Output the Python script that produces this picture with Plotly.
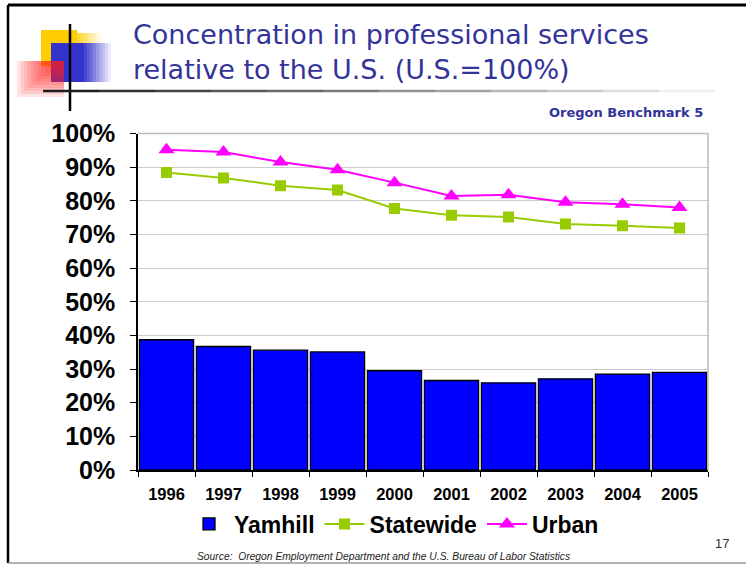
import plotly.graph_objects as go

W, H = 746, 564

# dados
anos = ["1996", "1997", "1998", "1999", "2000", "2001", "2002", "2003", "2004", "2005"]
yamhill = [0.387, 0.367, 0.356, 0.351, 0.295, 0.266, 0.259, 0.271, 0.285, 0.290]
statewide = [0.884, 0.868, 0.845, 0.832, 0.777, 0.757, 0.752, 0.731, 0.726, 0.719]
urban = [0.952, 0.945, 0.915, 0.892, 0.854, 0.814, 0.818, 0.796, 0.790, 0.780]
y_ticks = [0, 0.1, 0.2, 0.3, 0.4, 0.5, 0.6, 0.7, 0.8, 0.9, 1.0]

titulo = "Concentration in professional services<br>relative to the U.S. (U.S.=100%)"
fonte_dados = "Source:  Oregon Employment Department and the U.S. Bureau of Labor Statistics"


def px(x):
    return x / W


def py(y):
    return 1 - y / H


def rect(x0, y0, x1, y1, cor, opacidade=1.0):
    return dict(type="rect", xref="paper", yref="paper",
                x0=px(x0), x1=px(x1), y0=py(y1), y1=py(y0),
                fillcolor=cor, opacity=opacidade, line=dict(width=0), layer="above")


def linha(x0, y0, x1, y1, cor, largura):
    return dict(type="line", xref="paper", yref="paper",
                x0=px(x0), x1=px(x1), y0=py(y0), y1=py(y1),
                line=dict(color=cor, width=largura), layer="above")


fig = go.Figure()

fig.add_trace(go.Bar(
    x=anos, y=yamhill, name="Yamhill",
    marker=dict(color="#0000FF", line=dict(color="black", width=1.3)),
))
fig.add_trace(go.Scatter(
    x=anos, y=statewide, name="Statewide", mode="lines+markers",
    line=dict(color="#99CC00", width=2),
    marker=dict(symbol="square", size=11, color="#99CC00"),
))
fig.add_trace(go.Scatter(
    x=anos, y=urban, name="Urban", mode="lines+markers",
    line=dict(color="#FF00FF", width=2),
    marker=dict(symbol="triangle-up", size=14, color="#FF00FF"),
))

# decoração do slide (moldura, quadrados e linha do título)
shapes = []
shapes.append(linha(8, 5, 746, 5, "black", 3))
shapes.append(linha(8, 5, 8, 563, "black", 2.5))
shapes.append(linha(8, 563, 746, 563, "#999999", 1.5))

# quadrado amarelo com degradê para a direita
shapes.append(rect(41, 30, 77, 66, "#FFCC00"))
for i in range(8):
    shapes.append(rect(77 + i * 3, 33, 80 + i * 3, 43, "#FFCC00", 0.8 - i * 0.1))
# quadrado azul com degradê
shapes.append(rect(51, 43, 84, 82, "#3333CC"))
for i in range(9):
    shapes.append(rect(84 + i * 3, 43, 87 + i * 3, 82, "#3333CC", 0.9 - i * 0.1))
# quadrado vermelho com degradê diagonal (mais forte no canto superior direito)
for i in range(12):
    shapes.append(rect(17 + i * 3.5, 61, 64, 97 - i * 3, "#FF2020", 0.12))
# cruz preta
shapes.append(linha(70, 24, 70, 111, "black", 2.5))
for i in range(12):
    cinza = int(30 + i * 19)
    shapes.append(linha(43 + i * 56, 91, 43 + (i + 1) * 56, 91,
                        f"rgb({cinza},{cinza},{cinza})", 2.5))

# borda da área do gráfico
x_esq, x_dir, y_topo, y_base = 138, 708, 133.5, 470
shapes.append(linha(x_esq, y_topo, x_dir, y_topo, "#BBBBBB", 1.5))
shapes.append(linha(x_dir, y_topo, x_dir, y_base, "#BBBBBB", 1.5))

annotations = [
    dict(text=titulo, xref="paper", yref="paper", x=px(131), y=py(17),
         xanchor="left", yanchor="top", align="left", showarrow=False,
         font=dict(family="DejaVu Sans", size=27, color="#333399")),
    dict(text="<b>Oregon Benchmark 5</b>", xref="paper", yref="paper",
         x=px(705), y=py(112), xanchor="right", yanchor="middle", showarrow=False,
         font=dict(family="DejaVu Sans", size=13, color="#333399")),
    dict(text="17", xref="paper", yref="paper", x=px(731), y=py(543),
         xanchor="right", yanchor="middle", showarrow=False,
         font=dict(family="Liberation Sans, Arial", size=13, color="#333333")),
    dict(text=f"<i>{fonte_dados}</i>", xref="paper", yref="paper",
         x=px(383), y=py(556), xanchor="center", yanchor="middle", showarrow=False,
         font=dict(family="Liberation Sans, Arial", size=10.3, color="#222222")),
]

fig.update_layout(
    width=W, height=H,
    margin=dict(l=0, r=0, t=0, b=0, autoexpand=False),
    paper_bgcolor="white", plot_bgcolor="white",
    bargap=0.05,
    showlegend=True,
    legend=dict(orientation="h", x=px(394), y=py(524), xanchor="center", yanchor="middle",
                font=dict(family="Liberation Sans, Arial", size=23, color="black", weight="bold"),
                itemwidth=40, traceorder="normal"),
    xaxis=dict(
        domain=[px(x_esq), px(x_dir)], range=[-0.5, 9.5],
        tickson="boundaries", ticks="outside", ticklen=5, tickcolor="black",
        showline=True, linecolor="black", linewidth=1.5,
        tickfont=dict(family="Liberation Sans, Arial", size=16.5, color="black", weight="bold"),
        ticklabelstandoff=8,
        anchor="y", automargin=False,
    ),
    yaxis=dict(
        domain=[py(y_base), py(y_topo)],
        range=[0, 1.0], tickvals=y_ticks, tickformat=".0%",
        ticks="outside", ticklen=6, tickcolor="black",
        showline=True, linecolor="black", linewidth=1.5,
        showgrid=True, gridcolor="#CCCCCC", gridwidth=1.2,
        tickfont=dict(family="Liberation Sans, Arial", size=25, color="black", weight="bold"),
        ticklabelstandoff=10,
        zeroline=False, automargin=False,
    ),
    shapes=shapes,
    annotations=annotations,
)

fig.write_html("out.html", config={"displayModeBar": False},
               post_script="document.body.style.margin='0';")
